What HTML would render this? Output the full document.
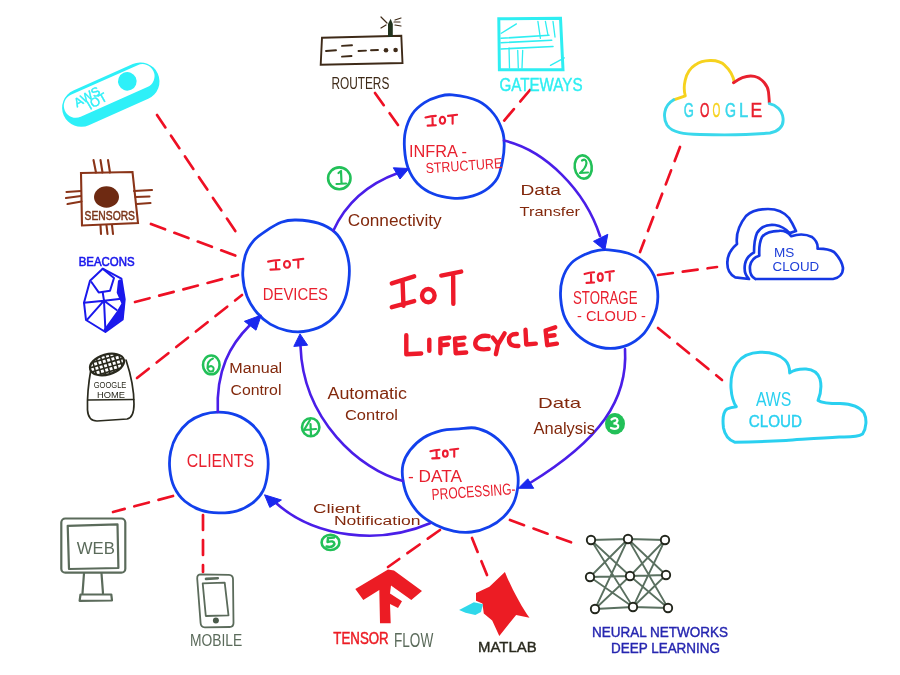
<!DOCTYPE html>
<html><head><meta charset="utf-8"><title>IoT Lifecycle</title>
<style>
html,body{margin:0;padding:0;background:#fff;width:900px;height:675px;overflow:hidden}
svg{display:block;will-change:transform}
text{font-family:"Liberation Sans",sans-serif}
.c{fill:none;stroke:#1240ec;stroke-width:2.8;stroke-linecap:round}
.ar{fill:none;stroke:#4a1ee8;stroke-width:2.6;stroke-linecap:round}
.ah{fill:#1a28ee;stroke:#1a28ee;stroke-width:1;stroke-linejoin:round}
.d{fill:none;stroke:#ee1024;stroke-width:2.7;stroke-dasharray:15 10;stroke-linecap:round}
.rt{fill:#e8202e;stroke:#e8202e;stroke-width:.5;letter-spacing:1px}
.br{fill:#6b2a12;stroke:#6b2a12;stroke-width:.3}
</style></head>
<body>
<svg width="900" height="675" viewBox="0 0 900 675">
<!-- dashed connectors -->
<g class="d">
<path d="M157 115 L240 238"/>
<path d="M151 224 L239 257"/>
<path d="M135 302 L238 275"/>
<path d="M137 378 L242 295"/>
<path d="M375 93 L398 125"/>
<path d="M530 90 L503 122"/>
<path d="M680 147 L640 252"/>
<path d="M658 275 L717 267"/>
<path d="M658 328 L722 380"/>
<path d="M173 496 L113 512"/>
<path d="M203 515 L203 572"/>
<path d="M440 530 L388 567"/>
<path d="M472 538 L487 575"/>
<path d="M510 520 L573 543"/>
</g>

<!-- AWS IoT pill -->
<g transform="translate(110.8,94.6) rotate(-24)">
<rect x="-51.5" y="-19" width="103" height="38" rx="19" fill="#2ef0f8"/>
<rect x="-48.5" y="-16" width="97" height="24" rx="12" fill="#fff"/>
<circle cx="20.5" cy="-5.4" r="9.3" fill="#2ef0f8"/>
</g>
<g fill="#2ef0f8" stroke="#2ef0f8" stroke-width="0.4" font-size="12.5" transform="translate(77,107.5) rotate(-30)"><text x="0" y="0">AWS</text></g>
<g fill="#2ef0f8" stroke="#2ef0f8" stroke-width="0.4" font-size="12.5" transform="translate(90,110) rotate(-30)"><text x="0" y="0">IOT</text></g>
<!-- Sensors chip -->
<g stroke="#8a3418" stroke-width="2.1" fill="none" stroke-linecap="round">
<path d="M81 173 L132.5 172 L138 223 L82 225.5 Z"/>
<path d="M93.5 160 L96 172.5 M100.5 160 L102.5 172.5 M108 160 L110 172.5"/>
<path d="M100.5 225.5 L101 234 M106.5 225.5 L107.5 234 M112 225 L113 234"/>
<path d="M66.5 192 L81 191 M66 198 L81 196 M67.5 204 L81.5 201.5"/>
<path d="M134 191 L152 190 M135.5 197 L149.5 196.5 M137 204 L150.5 203"/>
</g>
<ellipse cx="106.5" cy="197" rx="12.5" ry="10.7" fill="#6e2a12"/>
<text x="84.6" y="220" font-size="13.1" textLength="50.4" lengthAdjust="spacingAndGlyphs" fill="#7a3418" stroke="#7a3418" stroke-width="0.5">SENSORS</text>
<!-- Beacons -->
<text x="78.7" y="266" font-size="12.6" textLength="56.0" lengthAdjust="spacingAndGlyphs" fill="#1a18ec" stroke="#1a18ec" stroke-width="0.6">BEACONS</text>
<g stroke="#1a18ec" stroke-width="2" fill="none" stroke-linejoin="round" stroke-linecap="round">
<path d="M102.7 268.7 L121.4 278.7 L124.7 299.4 L122.7 319.4 L105.4 332 L86 320 L84 302.7 L90 280.7 Z"/>
<path d="M102.7 268.7 L114 278 L110 290.7 L98.7 292.4 L91.4 282"/>
<path d="M104 300.7 L84 302.7 M104 300.7 L121.4 298.7 M104 300.7 L87.4 319.4 M104 300.7 L105.4 330 M104 300.7 L116.7 310 M104 300.7 L102.7 292.4"/>
</g>
<path d="M119.4 279.4 L122 280 L125 300.7 L123.4 318 L105.4 332 L103.4 330 L116.7 311.4 L121.4 303.4 L116.7 292.7 L118 280.7 Z" fill="#1a18ec"/>
<!-- Google Home -->
<g stroke="#2a2a1e" stroke-width="1.7" fill="none" stroke-linecap="round" stroke-linejoin="round">
<path d="M91 369 C 89 380 87 395 87.5 410 C 88 418 92 421 97 421 L 127 419 C 132 418 134 412 134 404 C 134 390 130 372 126 360"/>
<path d="M88 400 L133.7 399.5"/>
</g>
<clipPath id="gh"><ellipse cx="0" cy="0" rx="17" ry="9.5"/></clipPath>
<g transform="translate(107,364.5) rotate(-16)">
<ellipse cx="0" cy="0" rx="17.5" ry="10" fill="#fff" stroke="#2a2a1e" stroke-width="2.2"/>
<g clip-path="url(#gh)" stroke="#2a2a1e" stroke-width="1.6">
<path d="M-13 -12 L-13 12 M-8.5 -12 L-8.5 12 M-4 -12 L-4 12 M0.5 -12 L0.5 12 M5 -12 L5 12 M9.5 -12 L9.5 12 M14 -12 L14 12"/>
<path d="M-18 -6 L18 -6 M-18 -1.5 L18 -1.5 M-18 3 L18 3 M-18 7.5 L18 7.5"/>
</g>
</g>
<text x="93.7" y="388" font-size="9.6" textLength="32.7" lengthAdjust="spacingAndGlyphs" fill="#2a2a1e">GOOGLE</text>
<text x="97" y="398" font-size="9.6" textLength="28.0" lengthAdjust="spacingAndGlyphs" fill="#2a2a1e">HOME</text>
<!-- Router -->
<g stroke="#3e2a18" stroke-width="1.9" fill="none" stroke-linecap="round">
<path d="M322 37.7 L401.3 35.8 L402.5 63 L320.7 64.8 Z"/>
<path d="M326 51 L336 50.3 M342 45.9 L352 45.3 M342 56.6 L351.5 56 M358.5 51 L366 50.6 M371 50.3 L378 50"/>
<path d="M381 17 L387 23 M381 28 L386 25 M395 20 L401 18 M395 25 L401 26 M394 22 L400 22" stroke-width="1.2"/>
</g>
<path d="M388 37 L388 24 L390.6 18.8 L392.8 24 L392.8 37 Z" fill="#22331e"/>
<circle cx="386" cy="50.3" r="2.3" fill="#3e2a18"/>
<circle cx="395.6" cy="50" r="2.3" fill="#3e2a18"/>
<text x="331.4" y="88.5" font-size="16.0" textLength="57.9" lengthAdjust="spacingAndGlyphs" fill="#3e2a18">ROUTERS</text>
<!-- Gateways -->
<g stroke="#2eeef2" fill="none" stroke-linecap="round">
<path d="M498.8 18.8 L560.5 18.2 L563 69.8 L499.4 69.8 Z" stroke-width="3"/>
<path d="M501 38.3 L549 35.2 M501 42.7 L551.7 40.2 M501 49 L553 46.5" stroke-width="1.6"/>
<path d="M537.9 21.3 L540.4 38.3 M545.4 21.3 L548 35.2 M553 21.3 L555 37" stroke-width="1.3"/>
<path d="M509 47.8 L509.5 68 M517.7 50.3 L518.3 68 M522.7 50.3 L522 68" stroke-width="1.3"/>
<path d="M501.3 33.3 L516.4 23.9 M550.5 65.4 L564.3 57.9" stroke-width="1.3"/>
</g>
<text x="499.4" y="90.5" font-size="18.2" textLength="83.2" lengthAdjust="spacingAndGlyphs" fill="#2eeef2" stroke="#2eeef2" stroke-width="0.4">GATEWAYS</text>


<!-- Google cloud -->
<g fill="none" stroke-width="2.9" stroke-linecap="round" stroke-linejoin="round">
<path d="M673.7 99.8 L685.3 95.9 C 683 88 684 72 695.4 64.8 C 702 60 718 58 725 65.6 C 730 70 733 76 734.3 81.9" stroke="#f6d21e"/>
<path d="M733.5 82.7 C 740 78 748 75 754.5 76.4 C 762 78 768 86 768.5 92 C 769 97 769.3 101 769.3 103" stroke="#e8202e"/>
<path d="M769.3 103.7 C 776 105 782 110 783 118 C 784 126 779 131 770 133 C 750 135 720 135 700 134.5 C 685 134 672 133 667 125 C 663 118 663 106 673.7 99.8" stroke="#3ad8ec"/>
</g>
<g font-size="20" stroke-width="0.5">
<text x="683.8" y="117" textLength="10.1" lengthAdjust="spacingAndGlyphs" fill="#3ad8ec" stroke="#3ad8ec">G</text>
<text x="700" y="117" textLength="9.4" lengthAdjust="spacingAndGlyphs" fill="#e8202e" stroke="#e8202e">O</text>
<text x="712.5" y="117" textLength="7.8" lengthAdjust="spacingAndGlyphs" fill="#f6d21e" stroke="#f6d21e">O</text>
<text x="725" y="117" textLength="11.0" lengthAdjust="spacingAndGlyphs" fill="#3ad8ec" stroke="#3ad8ec">G</text>
<text x="739" y="117" textLength="9.3" lengthAdjust="spacingAndGlyphs" fill="#3ad8ec" stroke="#3ad8ec">L</text>
<text x="750.6" y="117" textLength="11.7" lengthAdjust="spacingAndGlyphs" fill="#e8202e" stroke="#e8202e">E</text>
</g>
<!-- MS cloud -->
<g fill="none" stroke="#1538e4" stroke-width="2.7" stroke-linejoin="round" stroke-linecap="round">
<path d="M749 279 L735.2 277.4 C 729 274 727 268 727.4 261.9 C 727.5 255 730 250 737 244 C 736 236 738 226 746 216 C 752 210 760 209 768 209 C 777 209 784 212 789 218 C 793 224 795 229 796 231 L 789.6 233.1 C 786 229 781 226 775 225 C 766 224 760 228 757 233 C 754 240 754 247 754 252.5 C 749 255 746 259 745 264 C 744 270 745 275 748.4 278.2"/>
<path d="M755.4 279 L833 279 C 839 278 843 274 843 268 C 842 262 839 257 834 252 C 829 249 822 248.5 817.6 248.6 C 818 244 816 240 812 237 C 806 234 798 234 791.2 236.2 C 788 232 784 230.5 779 230.8 C 772 231 765 233 762 237 C 759.5 242 759 250 759.3 255.7 C 754 257 751 261 750 266 C 749.5 272 751 277 755.4 279"/>
</g>
<text x="774" y="257.2" font-size="13.5" textLength="20.3" lengthAdjust="spacingAndGlyphs" fill="#1e3ed8">MS</text>
<text x="772.5" y="271.2" font-size="13.5" textLength="46.7" lengthAdjust="spacingAndGlyphs" fill="#1e3ed8">CLOUD</text>
<!-- AWS cloud -->
<path d="M734.6 442.2 C 729 440 725 436 723.5 428 C 722.5 420 723 412 727 409 C 730 407.5 733 407 736.3 406.7 C 733 402 731.5 396 731 388 C 730.5 378 732 370 737 363 C 742 356 750 352.5 760 352.2 C 772 352 780 355 785 360 C 789 364 789.7 368 789.7 372.9 C 794 369.5 800 368.8 806 369 C 813 369.5 818 373 820 379 C 821.5 385 821 393 818.1 400.4 C 822 403 830 403.5 840 403.6 C 852 404 860 407 864 413 C 867 419 866.5 428 862.6 434 C 857 437.5 848 437 839.4 436.9 C 820 438 800 439.5 786 440.4 C 765 441.5 748 442 734.6 442.2 Z" fill="none" stroke="#2ad0f0" stroke-width="3" stroke-linejoin="round"/>
<text x="755.9" y="405.8" font-size="19.5" textLength="35.5" lengthAdjust="spacingAndGlyphs" fill="#2ad0f0">AWS</text>
<text x="748.8" y="427.1" font-size="15.6" textLength="53.3" lengthAdjust="spacingAndGlyphs" fill="#2ad0f0" stroke="#2ad0f0" stroke-width="0.4">CLOUD</text>
<!-- Web monitor -->
<g stroke="#5b6b5b" stroke-width="2.2" fill="none" stroke-linejoin="round" stroke-linecap="round">
<rect x="61.3" y="518.5" width="64" height="54.2" rx="4"/>
<path d="M67.7 525.8 L117.5 524.3 L118.4 568 L69 569 Z"/>
<path d="M84 573.4 L82.5 593.3 M101.5 573.4 L103 593.3"/>
<path d="M80.5 594.5 L111.3 594.5 L112 600.5 L79.6 600.8 Z"/>
</g>
<text x="76.8" y="553.7" font-size="15.6" textLength="38.1" lengthAdjust="spacingAndGlyphs" fill="#5b6b5b">WEB</text>
<!-- Mobile -->
<g stroke="#5b6b5b" stroke-width="1.8" fill="none" stroke-linejoin="round" stroke-linecap="round">
<path d="M201 574.4 L229 574.8 Q 233 575 233 579 L 233.5 623 Q 233.5 627 229.5 627 L 204.8 627.3 Q 200.8 627.3 200.6 623 L 197.2 578.5 Q 197 574.4 201 574.4 Z"/>
<path d="M202.7 583.3 L224.7 582.6 L228.5 615.4 L205.8 616 Z"/>
<path d="M206 578.9 L217.8 578.2" stroke-width="2.6"/>
</g>
<circle cx="215.9" cy="620.4" r="3" fill="#4b5b4b"/>
<text x="190" y="645.6" font-size="17.4" textLength="52.3" lengthAdjust="spacingAndGlyphs" fill="#5b6b5b">MOBILE</text>
<!-- TensorFlow -->
<path d="M388 569.5 L355.3 589 L363.3 600 L379.3 590 L380 623.3 L390.7 623.3 L390 604 L398 608 L402 601.3 L390 593.5 L391 585.5 L411.3 600 L422 591 L394 570.5 Z" fill="#ec1c24"/>
<text x="333.3" y="644" font-size="16.4" textLength="55.4" lengthAdjust="spacingAndGlyphs" fill="#ec1c24" stroke="#ec1c24" stroke-width="0.5">TENSOR</text>
<text x="394" y="646.7" font-size="19.5" textLength="39.3" lengthAdjust="spacingAndGlyphs" fill="#5b6b5b">FLOW</text>
<!-- Matlab -->
<path d="M504.9 572 C 510 585 522 608 529.5 617.7 L 516.1 614.9 L 499.3 636 L 492.2 620.5 L 483.8 613.5 L 482.4 603.6 L 476 600.8 L 476 593 L 489.4 586.7 Z" fill="#ec1c24"/>
<path d="M459.1 610 L473.9 602.2 L483 604.3 L481 612 L475.3 614.9 L465.5 612.8 Z" fill="#30d8ea"/>
<text x="478" y="651.5" font-size="15.3" textLength="58.6" lengthAdjust="spacingAndGlyphs" fill="#2a2a1e" stroke="#2a2a1e" stroke-width="0.4">MATLAB</text>
<!-- Neural network -->
<g stroke="#5a7060" stroke-width="1.8" fill="none">
<path d="M591 540 L628 539 M591 540 L630 576 M591 540 L633 607 M590 577 L628 539 M590 577 L630 576 M590 577 L633 607 M595 609 L628 539 M595 609 L630 576 M595 609 L633 607"/>
<path d="M628 539 L665 540 M628 539 L666 575 M628 539 L668 608 M630 576 L665 540 M630 576 L666 575 M630 576 L668 608 M633 607 L665 540 M633 607 L666 575 M633 607 L668 608"/>
</g>
<g stroke="#22261c" stroke-width="1.9" fill="#fff">
<circle cx="591" cy="540" r="4.2"/><circle cx="628" cy="539" r="4.2"/><circle cx="665" cy="540" r="4.2"/>
<circle cx="590" cy="577" r="4.2"/><circle cx="630" cy="576" r="4.2"/><circle cx="666" cy="575" r="4.2"/>
<circle cx="595" cy="609" r="4.2"/><circle cx="633" cy="607" r="4.2"/><circle cx="668" cy="608" r="4.2"/>
</g>
<text x="592" y="637" font-size="14.5" textLength="136.0" lengthAdjust="spacingAndGlyphs" fill="#2626b0" stroke="#2626b0" stroke-width="0.4">NEURAL NETWORKS</text>
<text x="611" y="653" font-size="14.5" textLength="109.0" lengthAdjust="spacingAndGlyphs" fill="#2626b0" stroke="#2626b0" stroke-width="0.4">DEEP LEARNING</text>
<!-- green step markers -->
<g fill="none" stroke="#22c058" stroke-width="2.6" stroke-linecap="round" stroke-linejoin="round">
<ellipse cx="339.3" cy="178.3" rx="11.2" ry="10.9"/>
<ellipse cx="583.2" cy="167" rx="8.5" ry="11.7" transform="rotate(-8 583.2 167)"/>
<ellipse cx="310.7" cy="427.3" rx="8.7" ry="9"/>
<ellipse cx="330.5" cy="542.4" rx="8.9" ry="7.6"/>
<ellipse cx="211.3" cy="364.9" rx="8.3" ry="9.4"/>
<path d="M338.5 173 L341 171 L341.5 183 M336.5 184 L346 183.5" stroke-width="2.2"/>
<path d="M582 160.5 Q 586 158 586.5 163 Q 586 168 580 173 L588 172.5" stroke-width="2.2"/>
<path d="M310 420 L304 430 L316 429 M310.5 424 L311 435" stroke-width="2.2"/>
<path d="M334 537.5 L328 538 L327.5 542 Q 334 540 334.5 544 Q 333 548 326.5 546.5" stroke-width="2.4"/>
<path d="M213 358.5 Q 207 361 207.5 368 Q 209 373 213 371 Q 215 367 211 366 Q 208 366.5 207.5 368.5" stroke-width="2"/>
</g>
<ellipse cx="615" cy="423.7" rx="10" ry="10.7" fill="#22c058"/>
<path d="M611.5 419.5 Q 617 416.5 617.5 420.5 Q 617 423 613.5 423.5 Q 619.5 424 618 427.5 Q 616 430 611 428" fill="none" stroke="#fff" stroke-width="2.2" stroke-linecap="round"/>
<!-- main circles -->
<g class="c">
<path d="M452.2 94.9 C458.8 95.6 471.3 97.8 478.2 101.0 C485.1 104.2 489.8 109.0 493.8 114.0 C497.9 119.0 500.8 126.1 502.5 131.3 C504.2 136.5 504.2 140.3 504.2 145.2 C504.2 150.1 503.6 155.3 502.5 160.8 C501.4 166.3 500.2 173.3 497.3 178.2 C494.4 183.1 490.1 187.1 485.2 190.3 C480.3 193.5 473.3 195.9 467.8 197.2 C462.3 198.5 458.0 198.7 452.2 198.1 C446.4 197.5 438.9 196.2 433.1 193.8 C427.3 191.4 421.7 187.7 417.5 183.4 C413.3 179.1 410.2 173.6 408.0 167.8 C405.8 162.0 404.9 154.8 404.5 148.7 C404.1 142.6 404.1 137.1 405.4 131.3 C406.7 125.5 409.1 118.8 412.3 114.0 C415.5 109.2 420.1 105.6 424.5 102.7 C428.9 99.8 433.8 98.0 438.4 96.7 C443.0 95.4 445.6 94.2 452.2 94.9Z"/>
<path d="M296.1 220.0 C302.3 220.2 311.8 221.1 318.3 223.2 C324.8 225.3 330.7 228.6 335.0 232.4 C339.3 236.2 342.0 241.2 344.3 246.3 C346.6 251.4 348.1 257.4 348.9 263.0 C349.7 268.6 349.5 273.8 348.9 279.7 C348.3 285.6 347.4 292.3 345.2 298.2 C343.0 304.1 339.8 310.3 335.9 314.9 C332.0 319.5 327.4 323.2 322.0 326.0 C316.6 328.8 309.4 330.7 303.5 331.5 C297.6 332.3 292.4 331.8 286.9 330.6 C281.3 329.4 275.1 327.0 270.2 324.1 C265.2 321.2 261.1 317.6 257.2 313.0 C253.3 308.4 249.4 302.5 247.0 296.3 C244.6 290.1 243.1 282.8 242.8 276.0 C242.5 269.2 243.4 261.5 245.2 255.6 C247.0 249.7 249.9 245.0 253.5 240.8 C257.1 236.6 261.9 233.7 266.5 230.6 C271.1 227.5 276.4 224.1 281.3 222.3 C286.2 220.5 289.9 219.8 296.1 220.0Z"/>
<path d="M608.7 249.8 C613.7 250.3 622.3 251.2 628.2 253.3 C634.1 255.4 639.9 258.5 644.2 262.2 C648.5 265.9 651.8 270.7 654.0 275.6 C656.2 280.5 657.1 286.3 657.6 291.6 C658.1 296.9 657.8 302.6 656.7 307.6 C655.7 312.6 653.7 317.2 651.3 321.8 C648.9 326.4 646.2 331.2 642.4 335.1 C638.5 339.0 633.5 342.7 628.2 344.9 C622.9 347.1 616.3 348.4 610.4 348.4 C604.5 348.4 598.3 347.3 592.7 344.9 C587.1 342.5 581.3 338.6 576.7 334.2 C572.1 329.8 567.8 324.1 565.1 318.2 C562.4 312.3 561.2 305.2 560.7 298.7 C560.2 292.2 560.6 285.0 562.4 279.1 C564.2 273.2 567.4 267.2 571.3 263.1 C575.2 259.0 581.1 256.3 585.6 254.2 C590.1 252.1 594.1 251.0 598.0 250.3 C601.9 249.6 603.7 249.3 608.7 249.8Z"/>
<path d="M459.0 428.9 C464.6 428.4 469.7 427.1 475.0 428.0 C480.3 428.9 486.2 431.4 491.0 434.2 C495.8 437.0 499.8 440.8 503.5 444.9 C507.2 449.0 510.9 454.4 513.3 459.1 C515.7 463.9 517.0 468.6 517.7 473.4 C518.4 478.1 518.4 482.6 517.7 487.6 C517.0 492.6 515.7 498.7 513.3 503.6 C510.9 508.5 507.5 513.0 503.5 516.9 C499.5 520.8 494.6 524.2 489.3 526.7 C484.0 529.2 477.4 531.3 471.5 532.0 C465.6 532.7 459.6 532.3 453.7 531.1 C447.8 529.9 441.5 527.7 435.9 524.9 C430.3 522.1 424.5 518.8 419.9 514.3 C415.3 509.8 411.1 503.8 408.3 498.2 C405.5 492.6 403.9 486.1 403.0 480.5 C402.1 474.9 401.8 469.6 403.0 464.5 C404.2 459.4 406.7 454.6 410.1 450.2 C413.5 445.8 418.3 441.1 423.5 437.8 C428.7 434.6 435.3 432.2 441.2 430.7 C447.1 429.2 453.4 429.3 459.0 428.9Z"/>
<path d="M218.7 412.1 C224.3 412.2 230.8 413.0 236.4 415.1 C242.0 417.2 247.9 420.9 252.4 424.9 C256.9 428.9 260.6 434.1 263.1 439.1 C265.6 444.1 266.9 449.5 267.6 455.1 C268.4 460.7 268.4 467.0 267.6 472.9 C266.9 478.8 265.6 485.7 263.1 490.7 C260.6 495.7 256.9 499.7 252.4 503.1 C247.9 506.5 242.0 509.5 236.4 511.1 C230.8 512.7 224.6 513.0 218.7 512.9 C212.8 512.8 206.5 512.1 200.9 510.2 C195.3 508.3 189.4 505.1 184.9 501.3 C180.4 497.5 176.7 492.4 174.2 487.1 C171.7 481.8 170.4 475.2 169.8 469.3 C169.2 463.4 169.5 457.2 170.7 451.6 C171.9 446.0 173.9 440.5 176.9 435.6 C179.9 430.7 184.1 425.7 188.4 422.2 C192.7 418.7 197.6 416.3 202.7 414.6 C207.8 412.9 213.1 412.0 218.7 412.1Z"/>
</g>
<!-- arrows -->
<g class="ar">
<path d="M333.3 230.7 C 345 205 365 185 398 173"/>
<path d="M504 140.6 C 545 150 585 190 600 236"/>
<path d="M625 349 C 628 400 600 440 530 483"/>
<path d="M430 523.3 C 380 545 315 538 276 503"/>
<path d="M403 481 C 360 470 303 420 300.5 346"/>
<path d="M217.8 412 C 216 370 230 345 250 325"/>
</g>
<g class="ah">
<path d="M409 168.5 L393.3 167.8 L400 179 Z"/>
<path d="M604.8 250.2 L593.5 241.3 L607.8 234.3 Z"/>
<path d="M518.3 488.3 L527.8 478.8 L533.7 488.3 Z"/>
<path d="M264.5 494.8 L269.8 507.4 L281.4 500 Z"/>
<path d="M300 333.9 L293.8 346.4 L307.6 345.2 Z"/>
<path d="M261.3 315.1 L244.4 321.3 L256 330.2 Z"/>
</g>
<!-- title -->
<g fill="none" stroke="#ee1a2a" stroke-width="4.4" stroke-linecap="round" stroke-linejoin="round">
<path vector-effect="non-scaling-stroke" transform="translate(403.00 291.75) scale(0.933 0.951) translate(-403.00 -291.75)" d="M391 283 L415 275.5 M402.5 279.5 L403.5 306.5 M391 308 L415 301.5"/>
<ellipse cx="428.3" cy="295.6" rx="6.3" ry="6.6"/>
<path vector-effect="non-scaling-stroke" transform="translate(451.25 287.65) scale(0.926 0.953) translate(-451.25 -287.65)" d="M440.5 275 L462 270.8 M453.3 273.5 L453.5 304.5"/>
<path vector-effect="non-scaling-stroke" transform="translate(413.75 344.75) scale(0.903 0.922) translate(-413.75 -344.75)" d="M405.5 334.5 L405.5 355 L422 354.2"/>
<path vector-effect="non-scaling-stroke" transform="translate(429.30 345.25) scale(1.000 0.872) translate(-429.30 -345.25)" d="M429.3 339 L429.3 351.5"/>
<path vector-effect="non-scaling-stroke" transform="translate(444.80 345.50) scale(0.846 0.906) translate(-444.80 -345.50)" d="M439.6 338 L439.6 354 M439.6 338 L450 337 M439.8 345.3 L448.4 344.4"/>
<path vector-effect="non-scaling-stroke" transform="translate(460.60 345.40) scale(0.875 0.907) translate(-460.60 -345.40)" d="M454.2 338.4 L455 354 L467 353.2 M454.2 338 L465 336.8 M455 345.2 L464 344.3"/>
<path vector-effect="non-scaling-stroke" transform="translate(481.75 342.50) scale(0.897 0.906) translate(-481.75 -342.50)" d="M489.5 335.5 C 482 334 475 337 474.5 343 C 474 349 480 351 489.5 349.6"/>
<path vector-effect="non-scaling-stroke" transform="translate(498.70 343.75) scale(0.881 0.929) translate(-498.70 -343.75)" d="M492 337 L498 344.3 L505.4 332.5 M498 344.3 L495.5 355"/>
<path vector-effect="non-scaling-stroke" transform="translate(513.60 340.00) scale(0.857 0.886) translate(-513.60 -340.00)" d="M517.3 333.3 C 511 333 508 336 508.2 340 C 508.4 345 512 347 519.2 346.8"/>
<path vector-effect="non-scaling-stroke" transform="translate(530.65 337.15) scale(0.866 0.902) translate(-530.65 -337.15)" d="M524.7 329 L525.6 345.3 L536.6 344.3"/>
<path vector-effect="non-scaling-stroke" transform="translate(551.25 336.25) scale(0.876 0.918) translate(-551.25 -336.25)" d="M544.8 330 L546.7 346 L557.7 344.3 M544.8 330 L555.8 326.5 M546.3 336.3 L555 335.2"/>
</g>
<!-- IOT labels -->
<g fill="none" stroke="#ec1c30" stroke-width="2.1" stroke-linecap="round" stroke-linejoin="round" transform="translate(424.5 113.8) scale(0.898 1.008) translate(-267 -257.9)"><path vector-effect="non-scaling-stroke" d="M268.1 261.6 Q 274 260.3 279.6 260 M275.9 262 L276.1 269.1 M270.5 269.6 L279.6 269.3 M293.2 260 L303.3 258.9 M298.3 260 L298.3 267.7"/><ellipse vector-effect="non-scaling-stroke" cx="287" cy="264.4" rx="3" ry="3.4"/></g>
<g fill="none" stroke="#ec1c30" stroke-width="2.1" stroke-linecap="round" stroke-linejoin="round" transform="translate(267 257.9) scale(1.000 1.000) translate(-267 -257.9)"><path vector-effect="non-scaling-stroke" d="M268.1 261.6 Q 274 260.3 279.6 260 M275.9 262 L276.1 269.1 M270.5 269.6 L279.6 269.3 M293.2 260 L303.3 258.9 M298.3 260 L298.3 267.7"/><ellipse vector-effect="non-scaling-stroke" cx="287" cy="264.4" rx="3" ry="3.4"/></g>
<g fill="none" stroke="#ec1c30" stroke-width="2.1" stroke-linecap="round" stroke-linejoin="round" transform="translate(583.6 270) scale(0.834 1.102) translate(-267 -257.9)"><path vector-effect="non-scaling-stroke" d="M268.1 261.6 Q 274 260.3 279.6 260 M275.9 262 L276.1 269.1 M270.5 269.6 L279.6 269.3 M293.2 260 L303.3 258.9 M298.3 260 L298.3 267.7"/><ellipse vector-effect="non-scaling-stroke" cx="287" cy="264.4" rx="3" ry="3.4"/></g>
<g fill="none" stroke="#ec1c30" stroke-width="2.1" stroke-linecap="round" stroke-linejoin="round" transform="translate(429.5 447.8) scale(0.791 0.906) translate(-267 -257.9)"><path vector-effect="non-scaling-stroke" d="M268.1 261.6 Q 274 260.3 279.6 260 M275.9 262 L276.1 269.1 M270.5 269.6 L279.6 269.3 M293.2 260 L303.3 258.9 M298.3 260 L298.3 267.7"/><ellipse vector-effect="non-scaling-stroke" cx="287" cy="264.4" rx="3" ry="3.4"/></g>
<!-- circle labels -->
<g>
<text x="409" y="157.3" font-size="16.7" textLength="58.0" lengthAdjust="spacingAndGlyphs" fill="#e8202e">INFRA -</text>
<text x="426" y="173.3" font-size="14.5" textLength="76.6" lengthAdjust="spacingAndGlyphs" fill="#e8202e" transform="rotate(-4 426 173.3)">STRUCTURE</text>
<text x="262.8" y="300" font-size="17.4" textLength="65.2" lengthAdjust="spacingAndGlyphs" fill="#e8202e">DEVICES</text>
<text x="573" y="304" font-size="18.2" textLength="64.5" lengthAdjust="spacingAndGlyphs" fill="#e8202e">STORAGE</text>
<text x="577" y="321" font-size="14.5" textLength="69.0" lengthAdjust="spacingAndGlyphs" fill="#e8202e">- CLOUD -</text>
<text x="408" y="481.5" font-size="16.7" textLength="54.0" lengthAdjust="spacingAndGlyphs" fill="#e8202e">- DATA</text>
<text x="432" y="500" font-size="16.0" textLength="84.0" lengthAdjust="spacingAndGlyphs" fill="#e8202e" transform="rotate(-4 432 500)">PROCESSING-</text>
<text x="186.8" y="467.3" font-size="18.2" textLength="67.2" lengthAdjust="spacingAndGlyphs" fill="#e8202e">CLIENTS</text>
</g>
<!-- brown annotations -->
<g>
<text x="347.7" y="226.3" font-size="17" textLength="94.0" lengthAdjust="spacingAndGlyphs" fill="#82280c">Connectivity</text>
<text x="520.5" y="195" font-size="15.5" textLength="40.5" lengthAdjust="spacingAndGlyphs" fill="#82280c">Data</text>
<text x="519.5" y="215.5" font-size="13.5" textLength="60.5" lengthAdjust="spacingAndGlyphs" fill="#82280c">Transfer</text>
<text x="538" y="408" font-size="15" textLength="43.0" lengthAdjust="spacingAndGlyphs" fill="#82280c">Data</text>
<text x="533.5" y="434" font-size="17" textLength="61.5" lengthAdjust="spacingAndGlyphs" fill="#82280c">Analysis</text>
<text x="327.5" y="399" font-size="16" textLength="79.5" lengthAdjust="spacingAndGlyphs" fill="#82280c">Automatic</text>
<text x="345" y="419.5" font-size="14" textLength="53.0" lengthAdjust="spacingAndGlyphs" fill="#82280c">Control</text>
<text x="229.3" y="373" font-size="14" textLength="52.9" lengthAdjust="spacingAndGlyphs" fill="#82280c">Manual</text>
<text x="230.5" y="394.7" font-size="15" textLength="50.9" lengthAdjust="spacingAndGlyphs" fill="#82280c">Control</text>
<text x="313" y="513" font-size="13" textLength="47.6" lengthAdjust="spacingAndGlyphs" fill="#82280c">Client</text>
<text x="333.9" y="525.4" font-size="12.5" textLength="86.7" lengthAdjust="spacingAndGlyphs" fill="#82280c">Notification</text>
</g>
</svg>
</body></html>
